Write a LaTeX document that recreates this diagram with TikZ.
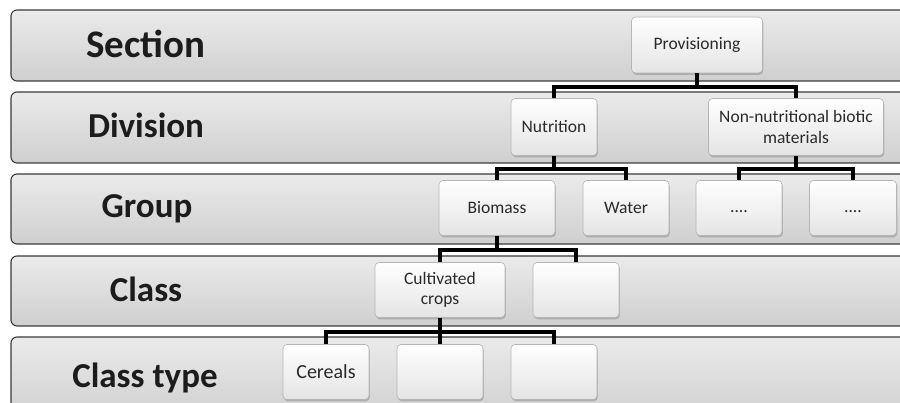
\documentclass[tikz,border=0pt]{standalone}
\usepackage{fontspec}
\setmainfont{Carlito}
\usetikzlibrary{shadows}
\definecolor{bandline}{HTML}{3A3A3A}
\definecolor{bandtop}{HTML}{EBEBEB}
\definecolor{bandbot}{HTML}{CFCFCF}
\definecolor{boxline}{HTML}{B5B5B5}
\definecolor{boxbot}{HTML}{E4E4E4}
\definecolor{labtext}{HTML}{1C1C1C}
\definecolor{boxtext}{HTML}{2A2A2A}
\begin{document}
\begin{tikzpicture}[x=1pt,y=-1pt,
  band/.style={draw=bandline, line width=1.1pt, rounded corners=6pt, top color=bandtop, bottom color=bandbot},
  lab/.style={anchor=base, font=\bfseries\fontsize{35}{40}\selectfont, text=labtext, inner sep=0pt},
  box/.style={draw=boxline, line width=0.6pt, rounded corners=4pt, top color=white, bottom color=boxbot,
    minimum height=55pt, minimum width=86pt, inner sep=0pt, align=center,
    font=\fontsize{17.5}{20.5}\selectfont, text=boxtext,
    drop shadow={shadow xshift=0.8pt, shadow yshift=-1.8pt, opacity=0.35, fill=black!60}},
  conn/.style={line width=3.2pt, draw=black, line join=miter}
]
\useasboundingbox (0,0) rectangle (900,403);
\begin{scope}
\clip (0,0) rectangle (900,403);
\path[band] (11,10) rectangle (925,81);
\path[band] (11,92) rectangle (925,163);
\path[band] (11,174) rectangle (925,244);
\path[band] (11,256) rectangle (925,326);
\path[band] (11,337) rectangle (925,420);

\node[lab, font=\bfseries\fontsize{39}{44}\selectfont] (lsec) at (146,58) {Section};
\node[lab] (ldiv) at (146,138) {Division};
\node[lab] (lgrp) at (147,218) {Group};
\node[lab] (lcls) at (146,302) {Class};
\node[lab] (lct) at (145,388) {Class type};

\node[box, minimum width=131pt, minimum height=56pt] (prov) at (697,45) {Provisioning};
\node[box, minimum height=57pt] (nut) at (554,127) {Nutrition};
\node[box, minimum width=175pt, minimum height=57pt] (non) at (796,127) {Non-nutritional biotic\\materials};
\node[box, minimum width=116pt] (bio) at (497,208) {Biomass};
\node[box] (wat) at (626,208) {Water};
\node[box] (d1) at (739,208) {\strut....};
\node[box, minimum width=87pt] (d2) at (853,208) {\strut....};
\node[box, minimum width=130pt] (cult) at (440,290) {Cultivated\\crops};
\node[box] (ce) at (576,290) {};
\node[box, font=\fontsize{20}{24}\selectfont] (cer) at (326,372) {Cereals};
\node[box] (ct2) at (440,372) {};
\node[box] (ct3) at (554,372) {};

\coordinate (b1) at (697,87);
\coordinate (b2) at (554,169);
\coordinate (b3) at (796,169);
\coordinate (b4) at (497,250);
\coordinate (b5) at (440,332);

\draw[conn] (prov.south) -- (b1);
\draw[conn] (nut.north) |- (b1) -| (non.north);
\draw[conn] (nut.south) -- (b2);
\draw[conn] (bio.north) |- (b2) -| (wat.north);
\draw[conn] (non.south) -- (b3);
\draw[conn] (d1.north) |- (b3) -| (d2.north);
\draw[conn] (bio.south) -- (b4);
\draw[conn] (cult.north) |- (b4) -| (ce.north);
\draw[conn] (cult.south) -- (b5);
\draw[conn] (cer.north) |- (b5) -| (ct3.north);
\draw[conn] (b5) -- (ct2.north);
\end{scope}
\end{tikzpicture}
\end{document}
